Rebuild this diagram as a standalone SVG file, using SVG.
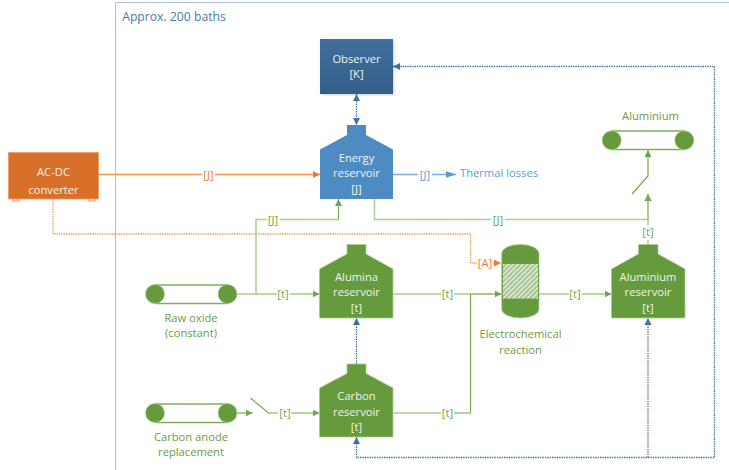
<svg xmlns="http://www.w3.org/2000/svg" width="729" height="470" viewBox="0 0 729 470">
<style>
text{font-family:"Open Sans","Noto Sans","Liberation Sans",sans-serif;font-size:11.2px;text-anchor:middle}
.w{fill:#eef3ea}
.g{fill:#6a9c45}
.lb{fill:#6aa84f}
.o{fill:#ed7d31}
.b{fill:#5b9bd5}
.fg{fill:#659b3c;stroke:#a9cd90;stroke-width:.8}
.c{fill:none}
.gl{stroke:#a9d18e;stroke-width:1.5}
.gd{stroke:#70ad47;stroke-width:1.2}
.ol{stroke:#f4944f;stroke-width:1.5}
.od{stroke:#f09a5e;stroke-width:1.3;stroke-dasharray:1.4 1}
.bd{stroke:#41719c;stroke-width:1.3;stroke-dasharray:1.4 1}
.bl{stroke:#7aaedd;stroke-width:1.3}
.bg{fill:#fff}
</style>
<defs>
<linearGradient id="ob" x1="0" y1="0" x2="0" y2="1"><stop offset="0" stop-color="#3f6f9e"/><stop offset="1" stop-color="#335f88"/></linearGradient>
<pattern id="h" width="3.4" height="3.4" patternUnits="userSpaceOnUse" patternTransform="rotate(45)"><rect width="3.4" height="3.4" fill="#dce8d2"/><rect width="1.5" height="3.4" fill="#9dbd85"/></pattern>
<marker id="ag" markerUnits="userSpaceOnUse" markerWidth="8" markerHeight="8" refX="7" refY="4" orient="auto"><path d="M0 .5L7 4L0 7.500Z" fill="#6aa84f"/></marker>
<marker id="ao" markerUnits="userSpaceOnUse" markerWidth="8" markerHeight="8" refX="7" refY="4" orient="auto"><path d="M0 .5L7 4L0 7.500Z" fill="#ed7d31"/></marker>
<marker id="abl" markerUnits="userSpaceOnUse" markerWidth="11" markerHeight="8" refX="10" refY="4" orient="auto"><path d="M0 .8L10 4L0 7.200Z" fill="#5b9bd5"/></marker>
<marker id="ad" markerUnits="userSpaceOnUse" markerWidth="8" markerHeight="8" refX="7" refY="4" orient="auto-start-reverse"><path d="M0 .5L7 4L0 7.500Z" fill="#3f70a0"/></marker>
<filter id="sh" x="-10%" y="-10%" width="120%" height="120%"><feDropShadow dx="1" dy="1" stdDeviation="1" flood-color="#000" flood-opacity=".2"/></filter>
</defs>
<rect width="729" height="470" fill="#fff"/>
<path d="M115.500 470V2.500H729" fill="none" stroke="#a9c2dc" stroke-width="1"/>
<text x="174" y="20.500" style="font-size:12.200px" fill="#4a7aa8">Approx. 200 baths</text>

<g id="connectors" class="c">
<path class="od" d="M53 199V234H470.500V263H478"/>
<path class="od" d="M491 263H501" marker-end="url(#ao)"/>
<path class="ol" d="M98.500 174.500H320" marker-end="url(#ao)"/>
<path class="gl" d="M237 294H256V219.500H338.500"/>
<path class="gd" d="M338.500 219.500V199" marker-end="url(#ag)"/>
<path class="gl" d="M256 294H283"/>
<path class="gd" d="M283 294H319.500" marker-end="url(#ag)"/>
<path class="gl" d="M374.500 199V219.500H648"/>
<path class="gl" d="M648 244V219.500"/>
<path class="gd" d="M648 219.500V194" marker-end="url(#ag)"/>
<path class="gd" d="M632 194L648 176V150" marker-end="url(#ag)"/>
<path class="gl" d="M393 294H470.500"/>
<path class="gd" d="M470.500 294H501.500" marker-end="url(#ag)"/>
<path class="gl" d="M393 413H447"/>
<path class="gd" d="M447 413H470.500V294"/>
<path class="gl" d="M539 294H575"/>
<path class="gd" d="M575 294H611.500" marker-end="url(#ag)"/>
<path class="gd" d="M237 413H252.500" marker-end="url(#ag)"/>
<path class="gd" d="M250.500 398L268.500 413H319.500" marker-end="url(#ag)"/>
<path class="bl" d="M393 174.500H456" marker-end="url(#abl)"/>
<path class="bd" d="M356.500 94V125" marker-start="url(#ad)" marker-end="url(#ad)"/>
<path class="bd" d="M356.500 364V318" marker-end="url(#ad)"/>
<path class="bd" d="M648 457.500V318" marker-end="url(#ad)"/>
<path class="bd" d="M356.500 437V457.500H714.500V66.500H393" marker-start="url(#ad)" marker-end="url(#ad)"/>
<g id="edge-labels">
<rect class="bg" x="202" y="167" width="13" height="15"/><text class="o" x="208.500" y="178.500">[J]</text>
<rect class="bg" x="267" y="212" width="13" height="15"/><text class="lb" x="273" y="223.500">[J]</text>
<rect class="bg" x="277" y="287" width="13" height="15"/><text class="lb" x="283" y="298">[t]</text>
<rect class="bg" x="278" y="406" width="13" height="15"/><text class="lb" x="285" y="417">[t]</text>
<rect class="bg" x="441" y="287" width="13" height="15"/><text class="lb" x="447.500" y="298">[t]</text>
<rect class="bg" x="441" y="406" width="13" height="15"/><text class="lb" x="447.500" y="417">[t]</text>
<rect class="bg" x="569" y="287" width="13" height="15"/><text class="lb" x="575" y="298">[t]</text>
<rect class="bg" x="491" y="212" width="14" height="15"/><text class="lb" x="498" y="223.500">[J]</text>
<rect class="bg" x="418" y="167" width="14" height="15"/><text class="b" x="425" y="178.500">[J]</text>
<rect class="bg" x="641" y="225" width="14" height="15"/><text class="lb" x="648" y="236">[t]</text>
<rect class="bg" x="477" y="256" width="15" height="15"/><text class="o" x="485" y="267">[A]</text>
</g>
</g>

<g id="observer">
<rect x="320" y="39" width="73" height="55" fill="url(#ob)" filter="url(#sh)"/>
<text class="w" x="356.500" y="62.500">Observer</text><text class="w" x="356.500" y="78">[K]</text>
</g>
<g id="acdc">
<rect x="13" y="198" width="6" height="3" fill="#fff" stroke="#e58a4e"/><rect x="89" y="198" width="6" height="3" fill="#fff" stroke="#e58a4e"/>
<rect x="8.500" y="152.500" width="90" height="46.500" fill="#d9702a" stroke="#ee9a63" stroke-width=".8"/>
<text class="w" x="53.500" y="176">AC-DC</text><text class="w" x="53.500" y="194">converter</text>
</g>
<g id="energy">
<path d="M320 199V149.500L347 135V125H366V135L393 149.500V199Z" fill="#4f8bc3"/>
<text class="w" x="356.500" y="161.500">Energy</text><text class="w" x="356.500" y="177">reservoir</text><text class="w" x="356.500" y="192.500">[J]</text>
</g>
<g id="alumina">
<path class="fg" d="M319.500 318V269L347 254V244.500H366V254L393 269V318Z"/>
<text class="w" x="356.500" y="280.500">Alumina</text><text class="w" x="356.500" y="296">reservoir</text><text class="w" x="356.500" y="311.500">[t]</text>
</g>
<g id="carbon">
<path class="fg" d="M319.500 437V388L347 373.500V364H366V373.500L393 388V437Z"/>
<text class="w" x="356.500" y="400">Carbon</text><text class="w" x="356.500" y="415.500">reservoir</text><text class="w" x="356.500" y="431">[t]</text>
</g>
<g id="aluminium">
<path class="fg" d="M611.500 318V269L638.500 254V244.500H658V254L685 269V318Z"/>
<text class="w" x="648" y="280.500">Aluminium</text><text class="w" x="648" y="296">reservoir</text><text class="w" x="648" y="311.500">[t]</text>
</g>
<g id="reactor">
<rect class="fg" x="501.700" y="244.500" width="37.300" height="73.500" rx="18" ry="9"/>
<rect x="502.500" y="263.500" width="36" height="35.500" fill="url(#h)" stroke="#659b3c" stroke-width=".8"/>
<text class="g" x="520.500" y="338">Electrochemical</text><text class="g" x="520.500" y="353.500">reaction</text>
</g>
<g id="raw">
<path d="M155 285H227.500M155 303.500H227.500" stroke="#80ad62" stroke-width="1.500" fill="none"/>
<circle class="fg" cx="155" cy="294" r="9.500"/><circle class="fg" cx="227.500" cy="294" r="9.500"/>
<text class="g" x="191" y="321.500">Raw oxide</text><text class="g" x="191" y="336.500">(constant)</text>
</g>
<g id="anode">
<path d="M155 404H227.500M155 422.500H227.500" stroke="#80ad62" stroke-width="1.500" fill="none"/>
<circle class="fg" cx="155" cy="413" r="9.500"/><circle class="fg" cx="227.500" cy="413" r="9.500"/>
<text class="g" x="191" y="441">Carbon anode</text><text class="g" x="191" y="456">replacement</text>
</g>
<g id="product">
<path d="M611.500 131H684.500M611.500 149.500H684.500" stroke="#80ad62" stroke-width="1.500" fill="none"/>
<circle class="fg" cx="611.700" cy="140.300" r="9.500"/><circle class="fg" cx="684.300" cy="140.300" r="9.500"/>
<text class="g" x="650.500" y="120">Aluminium</text>
</g>
<g id="thermal"><text class="b" x="499" y="176.500">Thermal losses</text></g>
</svg>
